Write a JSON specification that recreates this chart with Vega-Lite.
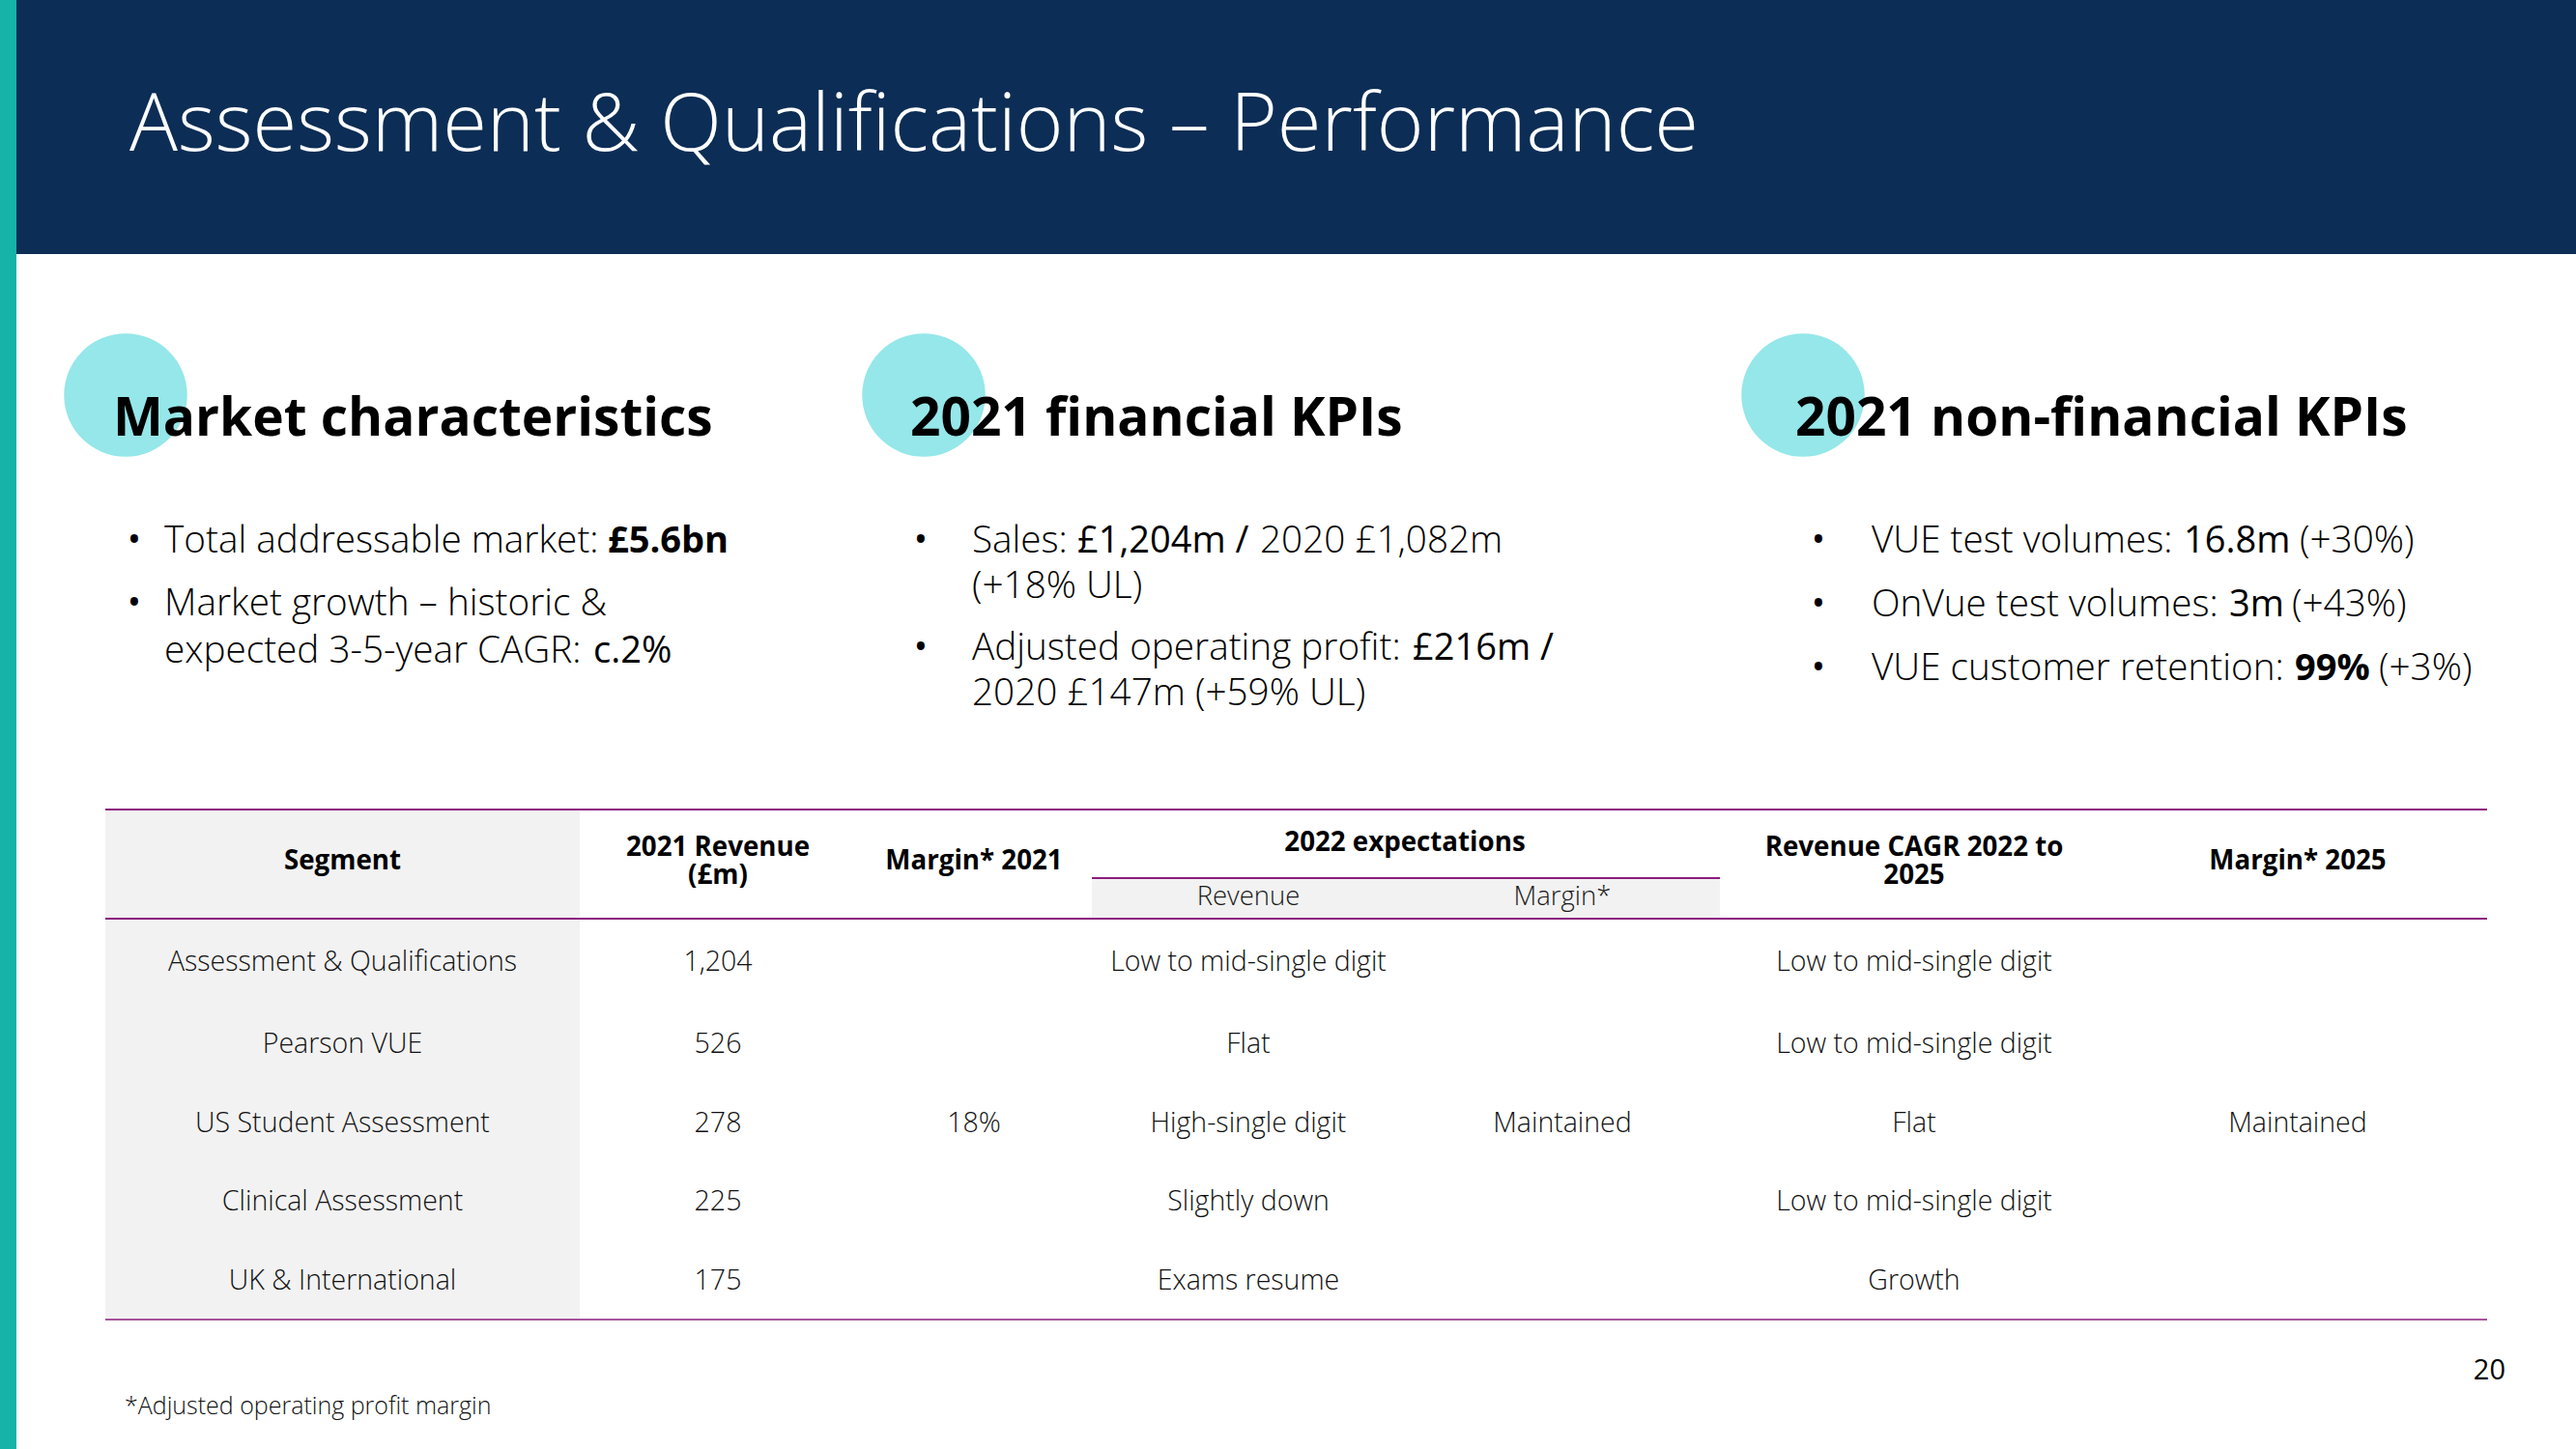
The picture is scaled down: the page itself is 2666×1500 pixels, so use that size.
{
  "$schema": "https://vega.github.io/schema/vega-lite/v6.json",
  "width": 2666,
  "height": 1500,
  "padding": 0,
  "autosize": {"type": "none"},
  "background": "#ffffff",
  "config": {"view": {"stroke": null}, "font": "Open Sans"},
  "datasets": {
    "blocks": [
      {"block": 1, "heading": "Market characteristics"},
      {"block": 2, "heading": "2021 financial KPIs"},
      {"block": 3, "heading": "2021 non-financial KPIs"}
    ],
    "bullets": [
      {"block": 1, "row": 11}, {"block": 1, "row": 12},
      {"block": 2, "row": 21}, {"block": 2, "row": 23},
      {"block": 3, "row": 31}, {"block": 3, "row": 32}, {"block": 3, "row": 33}
    ],
    "kpiText": [
      {"row": 11, "slot": 111, "text": "Total addressable market:"},
      {"row": 12, "slot": 121, "text": "Market growth – historic &"},
      {"row": 13, "slot": 131, "text": "expected 3-5-year CAGR:"},
      {"row": 21, "slot": 211, "text": "Sales:"},
      {"row": 21, "slot": 213, "text": "2020 £1,082m"},
      {"row": 22, "slot": 221, "text": "(+18% UL)"},
      {"row": 23, "slot": 231, "text": "Adjusted operating profit:"},
      {"row": 24, "slot": 241, "text": "2020 £147m (+59% UL)"},
      {"row": 31, "slot": 311, "text": "VUE test volumes:"},
      {"row": 31, "slot": 313, "text": "(+30%)"},
      {"row": 32, "slot": 321, "text": "OnVue test volumes:"},
      {"row": 32, "slot": 323, "text": "(+43%)"},
      {"row": 33, "slot": 331, "text": "VUE customer retention:"},
      {"row": 33, "slot": 333, "text": "(+3%)"}
    ],
    "kpiFigures": [
      {"row": 13, "slot": 132, "text": "c.2%"},
      {"row": 21, "slot": 212, "text": "£1,204m /"},
      {"row": 23, "slot": 232, "text": "£216m /"},
      {"row": 31, "slot": 312, "text": "16.8m"},
      {"row": 32, "slot": 322, "text": "3m"}
    ],
    "kpiHeadline": [
      {"row": 11, "slot": 112, "text": "£5.6bn"},
      {"row": 33, "slot": 332, "text": "99%"}
    ],
    "tableHeader": [
      {"c": 0, "level": 2, "label": "Segment"},
      {"c": 2, "level": 2, "label": "Margin* 2021"},
      {"c": 3.5, "level": 1, "label": "2022 expectations"},
      {"c": 6, "level": 2, "label": "Margin* 2025"}
    ],
    "tableHeaderWrapped": [
      {"c": 1, "line": 1, "label": "2021 Revenue"},
      {"c": 1, "line": 2, "label": "(£m)"},
      {"c": 5, "line": 1, "label": "Revenue CAGR 2022 to"},
      {"c": 5, "line": 2, "label": "2025"}
    ],
    "tableSubHeader": [
      {"c": 3, "level": 3, "label": "Revenue"},
      {"c": 4, "level": 3, "label": "Margin*"}
    ],
    "tableCells": [
      {"r": 0, "c": 0, "value": "Assessment & Qualifications"},
      {"r": 0, "c": 1, "value": "1,204"},
      {"r": 0, "c": 3, "value": "Low to mid-single digit"},
      {"r": 0, "c": 5, "value": "Low to mid-single digit"},
      {"r": 1, "c": 0, "value": "Pearson VUE"},
      {"r": 1, "c": 1, "value": "526"},
      {"r": 1, "c": 3, "value": "Flat"},
      {"r": 1, "c": 5, "value": "Low to mid-single digit"},
      {"r": 2, "c": 0, "value": "US Student Assessment"},
      {"r": 2, "c": 1, "value": "278"},
      {"r": 2, "c": 2, "value": "18%"},
      {"r": 2, "c": 3, "value": "High-single digit"},
      {"r": 2, "c": 4, "value": "Maintained"},
      {"r": 2, "c": 5, "value": "Flat"},
      {"r": 2, "c": 6, "value": "Maintained"},
      {"r": 3, "c": 0, "value": "Clinical Assessment"},
      {"r": 3, "c": 1, "value": "225"},
      {"r": 3, "c": 3, "value": "Slightly down"},
      {"r": 3, "c": 5, "value": "Low to mid-single digit"},
      {"r": 4, "c": 0, "value": "UK & International"},
      {"r": 4, "c": 1, "value": "175"},
      {"r": 4, "c": 3, "value": "Exams resume"},
      {"r": 4, "c": 5, "value": "Growth"}
    ],
    "tableEdges": [{"edge": -1}, {"edge": -0.5}],
    "tableBottom": [{"edge": 4.5}]
  },
  "layer": [
    {
      "data": {"values": [{"part": "accent bar"}]},
      "mark": {"type": "rect", "color": "#15b3a8"},
      "encoding": {
        "x": {"datum": 0, "type": "quantitative", "scale": {"domain": [0, 13.33], "range": [0, 2666], "nice": false, "zero": false}, "axis": null},
        "x2": {"datum": 0.085},
        "y": {"datum": 0, "type": "quantitative", "scale": {"domain": [0, 7.5], "range": [0, 1500], "nice": false, "zero": false}, "axis": null},
        "y2": {"datum": 7.5}
      }
    },
    {
      "data": {"values": [{"part": "title banner"}]},
      "mark": {"type": "rect", "color": "#0c2d55"},
      "encoding": {
        "x": {"datum": 0.085, "type": "quantitative", "scale": {"domain": [0, 13.33], "range": [0, 2666], "nice": false, "zero": false}, "axis": null},
        "x2": {"datum": 13.33},
        "y": {"datum": 0, "type": "quantitative", "scale": {"domain": [0, 7.5], "range": [0, 1500], "nice": false, "zero": false}, "axis": null},
        "y2": {"datum": 1.315}
      }
    },
    {
      "data": {"values": [{"title": "Assessment & Qualifications – Performance"}]},
      "mark": {"type": "text", "font": "Open Sans", "fontSize": 83.2, "fontWeight": 300, "color": "#ffffff", "align": "left", "baseline": "alphabetic"},
      "encoding": {
        "x": {"datum": 0.67, "type": "quantitative", "scale": {"domain": [0, 13.33], "range": [0, 2666], "nice": false, "zero": false}, "axis": null},
        "y": {"datum": 0.78, "type": "quantitative", "scale": {"domain": [0, 7.5], "range": [0, 1500], "nice": false, "zero": false}, "axis": null},
        "text": {"field": "title"}
      }
    },
    {
      "data": {"name": "blocks"},
      "mark": {"type": "point", "shape": "circle", "filled": true, "size": 16256, "color": "#95e7e9", "opacity": 1, "strokeWidth": 0},
      "encoding": {
        "x": {"field": "block", "type": "quantitative", "scale": {"domain": [1, 2, 3], "range": [130, 956, 1866], "nice": false, "zero": false}, "axis": null},
        "y": {"field": "block", "type": "quantitative", "scale": {"domain": [1, 2, 3], "range": [409, 409, 409], "nice": false, "zero": false}, "axis": null}
      }
    },
    {
      "data": {"name": "blocks"},
      "mark": {"type": "text", "font": "Open Sans", "fontSize": 55, "fontWeight": 700, "color": "#000000", "align": "left", "baseline": "alphabetic"},
      "encoding": {
        "x": {"field": "block", "type": "quantitative", "scale": {"domain": [1, 2, 3], "range": [117, 942, 1858], "nice": false, "zero": false}, "axis": null},
        "y": {"field": "block", "type": "quantitative", "scale": {"domain": [1, 2, 3], "range": [451, 451, 451], "nice": false, "zero": false}, "axis": null},
        "text": {"field": "heading"}
      }
    },
    {
      "data": {"name": "bullets"},
      "mark": {"type": "text", "font": "Open Sans", "fontSize": 38, "fontWeight": 400, "color": "#000000", "align": "center", "baseline": "alphabetic", "text": "•"},
      "encoding": {
        "x": {"field": "block", "type": "quantitative", "scale": {"domain": [1, 2, 3], "range": [139, 953, 1882], "nice": false, "zero": false}, "axis": null},
        "y": {"field": "row", "type": "quantitative", "scale": {"domain": [11, 12, 13, 21, 22, 23, 24, 31, 32, 33], "range": [572, 637, 686, 572, 619, 683, 730, 572, 638, 704], "nice": false, "zero": false}, "axis": null}
      }
    },
    {
      "data": {"name": "kpiText"},
      "mark": {"type": "text", "font": "Open Sans", "fontSize": 38.7, "fontWeight": 300, "color": "#000000", "align": "left", "baseline": "alphabetic"},
      "encoding": {
        "x": {"field": "slot", "type": "quantitative", "scale": {"domain": [111, 112, 121, 131, 132, 211, 212, 213, 221, 231, 232, 241, 311, 312, 313, 321, 322, 323, 331, 332, 333], "range": [170, 629, 170, 170, 614, 1006, 1115, 1304, 1006, 1006, 1462, 1006, 1937, 2260, 2380, 1937, 2307, 2372, 1937, 2375, 2462], "nice": false, "zero": false}, "axis": null},
        "y": {"field": "row", "type": "quantitative", "scale": {"domain": [11, 12, 13, 21, 22, 23, 24, 31, 32, 33], "range": [572, 637, 686, 572, 619, 683, 730, 572, 638, 704], "nice": false, "zero": false}, "axis": null},
        "text": {"field": "text"}
      }
    },
    {
      "data": {"name": "kpiFigures"},
      "mark": {"type": "text", "font": "Open Sans", "fontSize": 38, "fontWeight": 400, "color": "#000000", "align": "left", "baseline": "alphabetic"},
      "encoding": {
        "x": {"field": "slot", "type": "quantitative", "scale": {"domain": [111, 112, 121, 131, 132, 211, 212, 213, 221, 231, 232, 241, 311, 312, 313, 321, 322, 323, 331, 332, 333], "range": [170, 629, 170, 170, 614, 1006, 1115, 1304, 1006, 1006, 1462, 1006, 1937, 2260, 2380, 1937, 2307, 2372, 1937, 2375, 2462], "nice": false, "zero": false}, "axis": null},
        "y": {"field": "row", "type": "quantitative", "scale": {"domain": [11, 12, 13, 21, 22, 23, 24, 31, 32, 33], "range": [572, 637, 686, 572, 619, 683, 730, 572, 638, 704], "nice": false, "zero": false}, "axis": null},
        "text": {"field": "text"}
      }
    },
    {
      "data": {"name": "kpiHeadline"},
      "mark": {"type": "text", "font": "Open Sans", "fontSize": 38, "fontWeight": 700, "color": "#000000", "align": "left", "baseline": "alphabetic"},
      "encoding": {
        "x": {"field": "slot", "type": "quantitative", "scale": {"domain": [111, 112, 121, 131, 132, 211, 212, 213, 221, 231, 232, 241, 311, 312, 313, 321, 322, 323, 331, 332, 333], "range": [170, 629, 170, 170, 614, 1006, 1115, 1304, 1006, 1006, 1462, 1006, 1937, 2260, 2380, 1937, 2307, 2372, 1937, 2375, 2462], "nice": false, "zero": false}, "axis": null},
        "y": {"field": "row", "type": "quantitative", "scale": {"domain": [11, 12, 13, 21, 22, 23, 24, 31, 32, 33], "range": [572, 637, 686, 572, 619, 683, 730, 572, 638, 704], "nice": false, "zero": false}, "axis": null},
        "text": {"field": "text"}
      }
    },
    {
      "data": {"values": [{"part": "segment column"}]},
      "mark": {"type": "rect", "color": "#f2f2f2"},
      "encoding": {
        "x": {"datum": -0.5, "type": "quantitative", "scale": {"domain": [-0.5, 0.5, 1.5, 2.5, 3.5, 4.5, 5.5, 6.5], "range": [109, 600, 886, 1130, 1454, 1780, 2182, 2574], "nice": false, "zero": false}, "axis": null},
        "x2": {"datum": 0.5},
        "y": {"datum": -1, "type": "quantitative", "scale": {"domain": [-1, -0.75, -0.5, 0, 1, 2, 3, 4, 4.5], "range": [838, 909, 951, 996, 1081, 1163, 1244, 1326, 1366], "nice": false, "zero": false}, "axis": null},
        "y2": {"datum": 4.5}
      }
    },
    {
      "data": {"values": [{"part": "sub-header strip"}]},
      "mark": {"type": "rect", "color": "#f2f2f2"},
      "encoding": {
        "x": {"datum": 2.5, "type": "quantitative", "scale": {"domain": [-0.5, 0.5, 1.5, 2.5, 3.5, 4.5, 5.5, 6.5], "range": [109, 600, 886, 1130, 1454, 1780, 2182, 2574], "nice": false, "zero": false}, "axis": null},
        "x2": {"datum": 4.5},
        "y": {"datum": -0.75, "type": "quantitative", "scale": {"domain": [-1, -0.75, -0.5, 0, 1, 2, 3, 4, 4.5], "range": [838, 909, 951, 996, 1081, 1163, 1244, 1326, 1366], "nice": false, "zero": false}, "axis": null},
        "y2": {"datum": -0.5}
      }
    },
    {
      "data": {"name": "tableEdges"},
      "mark": {"type": "rule", "color": "#8c1b7e", "strokeWidth": 2.2},
      "encoding": {
        "x": {"datum": -0.5, "type": "quantitative", "scale": {"domain": [-0.5, 0.5, 1.5, 2.5, 3.5, 4.5, 5.5, 6.5], "range": [109, 600, 886, 1130, 1454, 1780, 2182, 2574], "nice": false, "zero": false}, "axis": null},
        "x2": {"datum": 6.5},
        "y": {"field": "edge", "type": "quantitative", "scale": {"domain": [-1, -0.75, -0.5, 0, 1, 2, 3, 4, 4.5], "range": [838, 909, 951, 996, 1081, 1163, 1244, 1326, 1366], "nice": false, "zero": false}, "axis": null}
      }
    },
    {
      "data": {"name": "tableBottom"},
      "mark": {"type": "rule", "color": "#8c1b7e", "strokeWidth": 1.5},
      "encoding": {
        "x": {"datum": -0.5, "type": "quantitative", "scale": {"domain": [-0.5, 0.5, 1.5, 2.5, 3.5, 4.5, 5.5, 6.5], "range": [109, 600, 886, 1130, 1454, 1780, 2182, 2574], "nice": false, "zero": false}, "axis": null},
        "x2": {"datum": 6.5},
        "y": {"field": "edge", "type": "quantitative", "scale": {"domain": [-1, -0.75, -0.5, 0, 1, 2, 3, 4, 4.5], "range": [838, 909, 951, 996, 1081, 1163, 1244, 1326, 1366], "nice": false, "zero": false}, "axis": null}
      }
    },
    {
      "data": {"values": [{"part": "2022 expectations underline"}]},
      "mark": {"type": "rule", "color": "#8c1b7e", "strokeWidth": 2.2},
      "encoding": {
        "x": {"datum": 2.5, "type": "quantitative", "scale": {"domain": [-0.5, 0.5, 1.5, 2.5, 3.5, 4.5, 5.5, 6.5], "range": [109, 600, 886, 1130, 1454, 1780, 2182, 2574], "nice": false, "zero": false}, "axis": null},
        "x2": {"datum": 4.5},
        "y": {"datum": -0.75, "type": "quantitative", "scale": {"domain": [-1, -0.75, -0.5, 0, 1, 2, 3, 4, 4.5], "range": [838, 909, 951, 996, 1081, 1163, 1244, 1326, 1366], "nice": false, "zero": false}, "axis": null}
      }
    },
    {
      "data": {"name": "tableHeader"},
      "mark": {"type": "text", "font": "Open Sans", "fontSize": 27.7, "fontWeight": 700, "color": "#000000", "align": "center", "baseline": "middle"},
      "encoding": {
        "x": {"field": "c", "type": "quantitative", "scale": {"domain": [-0.5, 0.5, 1.5, 2.5, 3.5, 4.5, 5.5, 6.5], "range": [109, 600, 886, 1130, 1454, 1780, 2182, 2574], "nice": false, "zero": false}, "axis": null},
        "y": {"field": "level", "type": "quantitative", "scale": {"domain": [1, 2, 3], "range": [873, 892, 928], "nice": false, "zero": false}, "axis": null},
        "text": {"field": "label"}
      }
    },
    {
      "data": {"name": "tableHeaderWrapped"},
      "mark": {"type": "text", "font": "Open Sans", "fontSize": 27.7, "fontWeight": 700, "color": "#000000", "align": "center", "baseline": "middle"},
      "encoding": {
        "x": {"field": "c", "type": "quantitative", "scale": {"domain": [-0.5, 0.5, 1.5, 2.5, 3.5, 4.5, 5.5, 6.5], "range": [109, 600, 886, 1130, 1454, 1780, 2182, 2574], "nice": false, "zero": false}, "axis": null},
        "y": {"field": "line", "type": "quantitative", "scale": {"domain": [1, 2], "range": [878, 907], "nice": false, "zero": false}, "axis": null},
        "text": {"field": "label"}
      }
    },
    {
      "data": {"name": "tableSubHeader"},
      "mark": {"type": "text", "font": "Open Sans", "fontSize": 27.5, "fontWeight": 300, "color": "#1a1a1a", "align": "center", "baseline": "middle"},
      "encoding": {
        "x": {"field": "c", "type": "quantitative", "scale": {"domain": [-0.5, 0.5, 1.5, 2.5, 3.5, 4.5, 5.5, 6.5], "range": [109, 600, 886, 1130, 1454, 1780, 2182, 2574], "nice": false, "zero": false}, "axis": null},
        "y": {"field": "level", "type": "quantitative", "scale": {"domain": [1, 2, 3], "range": [873, 892, 929], "nice": false, "zero": false}, "axis": null},
        "text": {"field": "label"}
      }
    },
    {
      "data": {"name": "tableCells"},
      "mark": {"type": "text", "font": "Open Sans", "fontSize": 28.5, "fontWeight": 300, "color": "#111111", "align": "center", "baseline": "middle"},
      "encoding": {
        "x": {"field": "c", "type": "quantitative", "scale": {"domain": [-0.5, 0.5, 1.5, 2.5, 3.5, 4.5, 5.5, 6.5], "range": [109, 600, 886, 1130, 1454, 1780, 2182, 2574], "nice": false, "zero": false}, "axis": null},
        "y": {"field": "r", "type": "quantitative", "scale": {"domain": [-1, -0.75, -0.5, 0, 1, 2, 3, 4, 4.5], "range": [838, 909, 951, 996, 1081, 1163, 1244, 1326, 1366], "nice": false, "zero": false}, "axis": null},
        "text": {"field": "value"}
      }
    },
    {
      "data": {"values": [{"note": "*Adjusted operating profit margin"}]},
      "mark": {"type": "text", "font": "Open Sans", "fontSize": 25, "fontWeight": 300, "color": "#111111", "align": "left", "baseline": "alphabetic"},
      "encoding": {
        "x": {"datum": 0.645, "type": "quantitative", "scale": {"domain": [0, 13.33], "range": [0, 2666], "nice": false, "zero": false}, "axis": null},
        "y": {"datum": 7.32, "type": "quantitative", "scale": {"domain": [0, 7.5], "range": [0, 1500], "nice": false, "zero": false}, "axis": null},
        "text": {"field": "note"}
      }
    },
    {
      "data": {"values": [{"page": "20"}]},
      "mark": {"type": "text", "font": "Open Sans", "fontSize": 29, "fontWeight": 400, "color": "#000000", "align": "right", "baseline": "alphabetic"},
      "encoding": {
        "x": {"datum": 12.965, "type": "quantitative", "scale": {"domain": [0, 13.33], "range": [0, 2666], "nice": false, "zero": false}, "axis": null},
        "y": {"datum": 7.14, "type": "quantitative", "scale": {"domain": [0, 7.5], "range": [0, 1500], "nice": false, "zero": false}, "axis": null},
        "text": {"field": "page"}
      }
    }
  ],
  "resolve": {"scale": {"x": "independent", "y": "independent"}}
}
